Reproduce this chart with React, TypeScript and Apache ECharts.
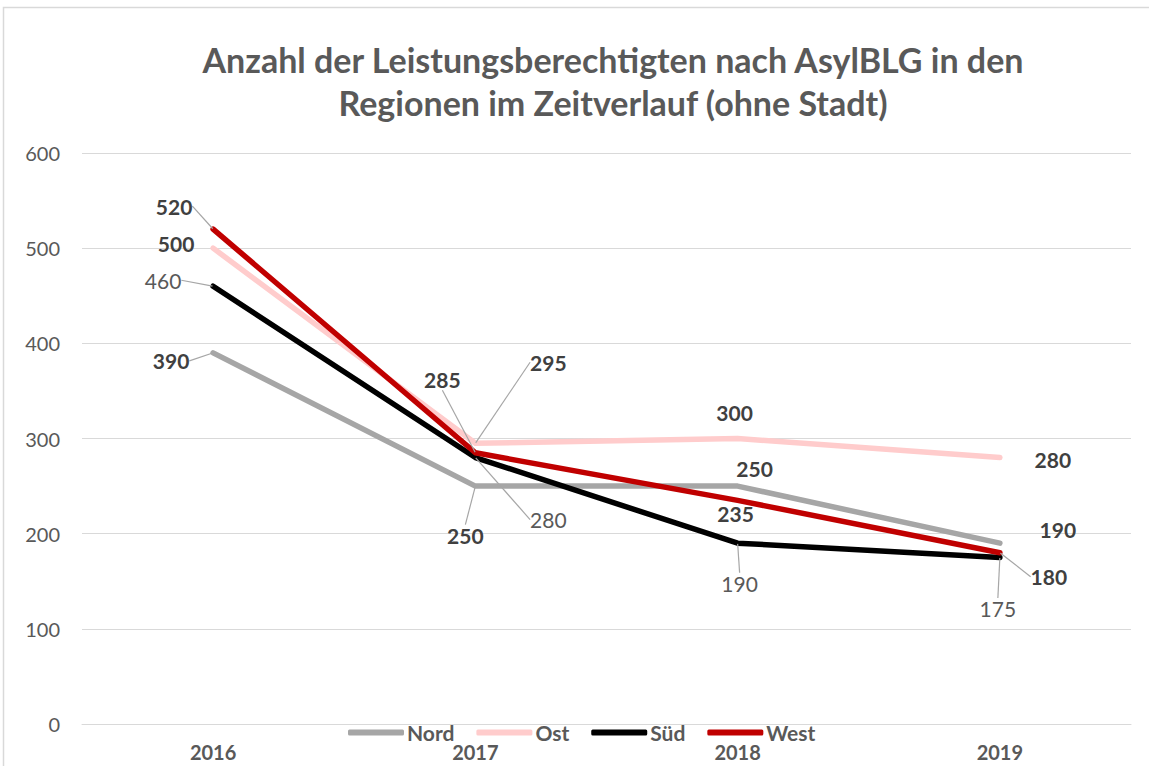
import React, { useEffect, useRef } from "react";
import * as echarts from "echarts";

const years = ["2016", "2017", "2018", "2019"];
const nord = [390, 250, 250, 190];
const ost = [500, 295, 300, 280];
const sued = [460, 280, 190, 175];
const west = [520, 285, 235, 180];
const yTicks = { min: 0, max: 600, interval: 100 };

// label displacement (px) from each point, and whether a leader line is drawn
const labelShift: Record<string, [number, number, boolean][]> = {
  Nord: [[-42, 8, true], [-10, 49, true], [17, -18, false], [58, -14, false]],
  Ost: [[-37, -5, false], [73, -81, true], [-3, -26, false], [53, 2, false]],
  "Süd": [[-50, -6, true], [73, 62, true], [2, 40, true], [-2, 51, true]],
  West: [[-39, -23, true], [-33, -73, true], [-2, 13, false], [49, 24, true]],
};

const FONT = "Lato, 'Open Sans', sans-serif";

export default function App() {
  const ref = useRef<HTMLDivElement>(null);
  useEffect(() => {
    document.body.style.margin = "0";
    const chart = echarts.init(ref.current!, null, { renderer: "svg" });
    const mk = (name: string, data: number[], color: string, bold: boolean) => ({
      name,
      type: "line",
      data: data.map((v, i) => ({
        value: v,
        labelLine: { show: labelShift[name][i][2] },
      })),
      symbol: "circle",
      symbolSize: 1,
      showSymbol: true,
      silent: true,
      lineStyle: { color, width: 5.5, cap: "round", join: "round" },
      itemStyle: { color },
      emphasis: { disabled: true },
      label: {
        show: true,
        position: "inside",
        fontFamily: FONT,
        fontSize: 21,
        fontWeight: bold ? "bold" : "normal",
        color: bold ? "#404040" : "#595959",
      },
      labelLine: {
        show: true,
        smooth: false,
        lineStyle: { color: "#a6a6a6", width: 1.2 },
      },
      labelLayout: (p: any) => {
        const s = labelShift[name][p.dataIndex];
        return { dx: s[0], dy: s[1] };
      },
    });
    chart.setOption({
      animation: false,
      backgroundColor: "#ffffff",
      title: {
        text: "Anzahl der Leistungsberechtigten nach AsylBLG in den\nRegionen im Zeitverlauf (ohne Stadt)",
        left: 608,
        textAlign: "center",
        top: 33,
        textStyle: {
          fontFamily: FONT,
          fontSize: 34,
          fontWeight: "bold",
          color: "#595959",
          lineHeight: 43,
        },
      },
      graphic: [
        {
          type: "rect",
          shape: { x: 3.5, y: 7.5, width: 1200, height: 800 },
          style: { fill: "none", stroke: "#d9d9d9", lineWidth: 1.5 },
          silent: true,
        },
      ],
      legend: {
        top: 717,
        left: 343,
        itemWidth: 56,
        itemHeight: 6,
        itemGap: 22,
        icon: "roundRect",
        textStyle: {
          fontFamily: FONT,
          fontSize: 21,
          fontWeight: "bold",
          color: "#595959",
          padding: [0, 0, 0, -2],
        },
        data: ["Nord", "Ost", "Süd", "West"],
      },
      grid: { left: 82, right: 18, top: 153, bottom: 42 },
      xAxis: {
        type: "category",
        data: years,
        boundaryGap: true,
        axisLine: { show: true, lineStyle: { color: "#d9d9d9", width: 1 } },
        axisTick: { show: false },
        axisLabel: {
          fontFamily: FONT,
          fontSize: 20,
          fontWeight: "bold",
          color: "#595959",
          margin: 18,
        },
      },
      yAxis: {
        type: "value",
        min: yTicks.min,
        max: yTicks.max,
        interval: yTicks.interval,
        axisLine: { show: false },
        axisTick: { show: false },
        splitLine: { lineStyle: { color: "#d9d9d9", width: 1 } },
        axisLabel: {
          fontFamily: FONT,
          fontSize: 20,
          color: "#595959",
          margin: 22,
        },
      },
      series: [
        mk("Nord", nord, "#a6a6a6", true),
        mk("Ost", ost, "#ffcccc", true),
        mk("Süd", sued, "#000000", false),
        mk("West", west, "#c00000", true),
      ],
    });
    return () => chart.dispose();
  }, []);
  return (
    <div
      ref={ref}
      style={{ position: "absolute", left: 0, top: 0, width: 1149, height: 766 }}
    />
  );
}
